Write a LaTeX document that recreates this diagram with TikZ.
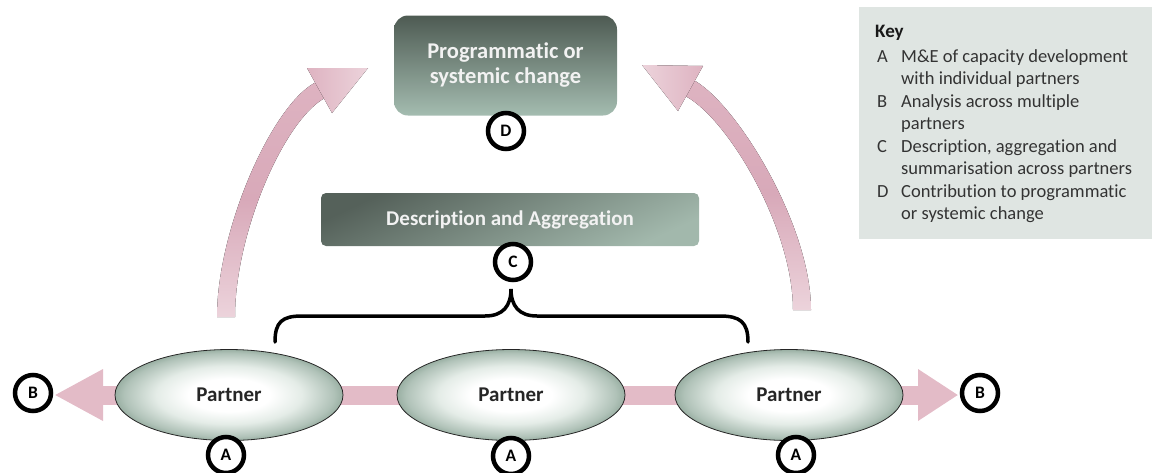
\documentclass[tikz,border=0pt]{standalone}
\usepackage{fontspec}
\setmainfont{Carlito}[Ligatures=NoCommon]
\usetikzlibrary{shapes.geometric,backgrounds,calc}
\definecolor{boxdark}{HTML}{4E5B53}
\definecolor{boxlight}{HTML}{A4BCB0}
\definecolor{descdark}{HTML}{55615A}
\definecolor{desclight}{HTML}{A2B8AC}
\definecolor{pgreen}{HTML}{789484}
\definecolor{pgreenA}{HTML}{E4ECE7}
\definecolor{pgreenB}{HTML}{B0C2B8}
\definecolor{pinkA}{HTML}{E3BBC7}
\definecolor{pinkL}{HTML}{ECD3DB}
\definecolor{pinkM}{HTML}{DEB3C1}
\definecolor{pinkD}{HTML}{D8A9B9}
\definecolor{keybg}{HTML}{DFE5E2}
\definecolor{keytext}{HTML}{333333}
\definecolor{boxtext}{HTML}{F2F2F2}
\pgfdeclareradialshading{partnershade}{\pgfpoint{0bp}{0bp}}{color(0bp)=(white); color(9bp)=(white); color(16bp)=(pgreenA); color(23bp)=(pgreenB); color(28bp)=(pgreen); color(50bp)=(pgreen)}
\tikzset{
  progbox/.style={rounded corners=14pt, top color=boxdark, bottom color=boxlight,
    minimum width=223pt, minimum height=100pt, inner sep=0pt, align=center, text=boxtext,
    font=\fontsize{22.5}{25}\selectfont\bfseries},
  descbox/.style={rounded corners=5pt, top color=descdark, bottom color=desclight, shading angle=25,
    minimum width=378pt, minimum height=53pt, inner sep=0pt, text=boxtext,
    font=\fontsize{21}{24}\selectfont\bfseries},
  partner/.style={ellipse, draw=black!85, line width=0.8pt, shade, shading=partnershade,
    minimum width=228pt, minimum height=91pt, inner sep=0pt,
    font=\fontsize{21}{24}\selectfont\bfseries, text=black!85},
  lettercirc/.style={circle, draw=black, line width=4.5pt, fill=white, minimum size=36pt,
    inner sep=0pt, font=\fontsize{17.5}{17.5}\selectfont\bfseries},
  pinkbar/.style={pinkA, line width=19pt},
  bracestyle/.style={line width=3.5pt, line cap=round},
  keyt/.style={anchor=base west, inner sep=0pt, text=keytext, font=\fontsize{18.5}{22}\selectfont},
  keyhead/.style={anchor=base west, inner sep=0pt, text=black!90, font=\fontsize{19}{22}\selectfont\bfseries}
}
\begin{document}
\begin{tikzpicture}[x=1pt,y=-1pt]
\useasboundingbox (0,0) rectangle (1157,472);

% key
\node[fill=keybg, minimum width=293pt, minimum height=232pt, anchor=north west, inner sep=0pt] (key) at (859,7) {};
\node[keyhead] (khead) at (875,37) {Key};
\node[keyt] (kA) at (877,62) {A};
\node[keyt] (kA1) at (901,62) {M\&E of capacity development};
\node[keyt] (kA2) at (901,84) {with individual partners};
\node[keyt] (kB) at (877,107) {B};
\node[keyt] (kB1) at (901,107) {Analysis across multiple};
\node[keyt] (kB2) at (901,129) {partners};
\node[keyt] (kC) at (877,152) {C};
\node[keyt] (kC1) at (901,152) {Description, aggregation and};
\node[keyt] (kC2) at (901,174) {summarisation across partners};
\node[keyt] (kD) at (877,197) {D};
\node[keyt] (kD1) at (901,197) {Contribution to programmatic};
\node[keyt] (kD2) at (901,219) {or systemic change};

% curved arrows
\fill[top color=pinkM, bottom color=pinkL, middle color=pinkD]
  (217,317) .. controls (217,228) and (274,100) .. (318.4,81)
  -- (326,97.4) .. controls (285,118) and (235,232) .. (235,317) -- cycle;
\fill[left color=pinkM, right color=pinkL] (307,68) -- (368,68) -- (332,113) -- cycle;
\fill[top color=pinkM, bottom color=pinkL, middle color=pinkD]
  (811,310) .. controls (811,223) and (733.9,99.6) .. (691.7,79.1)
  -- (683.9,95.3) .. controls (726.1,115.8) and (793,227) .. (793,310) -- cycle;
\fill[left color=pinkL, right color=pinkM] (642,65) -- (703,66) -- (678,111) -- cycle;

% boxes
\node[progbox] (prog) at (505.5,65.5) {Programmatic or\\systemic change};
\node[descbox] (desc) at (510,219.5) {Description and Aggregation};
\node[lettercirc] (cD) at (506,131) {D};
\node[lettercirc] (cC) at (513,262) {C};

% brace
\draw[bracestyle] (275,342) .. controls (275,322) and (282,316) .. (302,316) -- (485,316)
  .. controls (503,316) and (511,306) .. (511,289)
  .. controls (511,306) and (519,316) .. (537,316) -- (720,316)
  .. controls (740,316) and (748,322) .. (748,342);

% partners
\node[partner] (pL) at (229,395) {Partner};
\node[partner] (pM) at (511,395) {Partner};
\node[partner] (pR) at (789,395) {Partner};

\node[lettercirc] (cB1) at (33,393) {B};
\node[lettercirc] (cB2) at (980,393) {B};
\node[lettercirc] (cA1) at (226,455) {A};
\node[lettercirc] (cA2) at (511,456) {A};
\node[lettercirc] (cA3) at (796,455) {A};

\coordinate (hL) at (103,395);
\coordinate (hR) at (918,395);
\begin{scope}[on background layer]
  \draw[pinkbar] (pL.center) -- (pM.center);
  \draw[pinkbar] (pM.center) -- (pR.center);
  \draw[pinkbar] (pL.center) -- (hL);
  \draw[pinkbar] (pR.center) -- (hR);
  \fill[pinkA] ($(hL)+(0,-26)$) -- ($(cB1.east)+(2,2)$) -- ($(hL)+(0,26)$) -- cycle;
  \fill[pinkA] ($(hR)+(0,-26)$) -- ($(cB2.west)+(-2,2)$) -- ($(hR)+(0,26)$) -- cycle;
\end{scope}
\end{tikzpicture}
\end{document}
